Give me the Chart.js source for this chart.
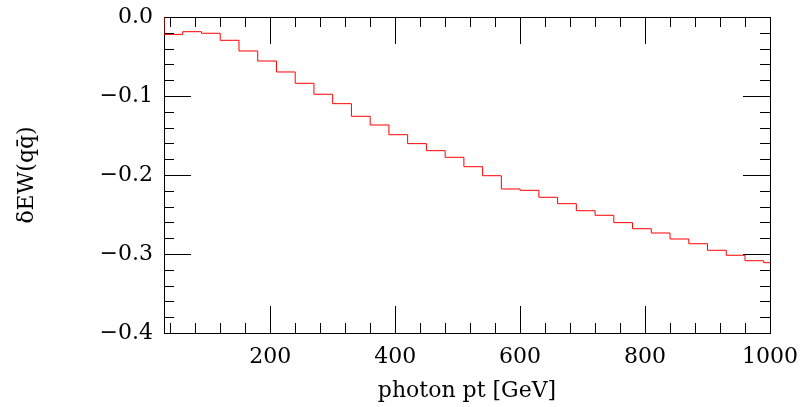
<!DOCTYPE html>
<html>
<head>
<meta charset="utf-8">
<script src="https://cdn.jsdelivr.net/npm/chart.js@4/dist/chart.umd.min.js"></script>
<style>
    html, body { margin: 0; padding: 0; background: #fff; }
    #wrap { width: 803px; height: 407px; }
</style>
</head>
<body>
<div id="wrap"><canvas id="myChart"></canvas></div>
<script>
// lower edges of the 30 GeV photon pt bins
const binLow = [30, 60, 90, 120, 150, 180, 210, 240, 270, 300, 330,
    360, 390, 420, 450, 480, 510, 540, 570, 600, 630, 660, 690,
    720, 750, 780, 810, 840, 870, 900, 930, 960, 990];
const binHighLast = 1020;
// delta EW (q qbar) per bin
const ewCorr = [-0.022, -0.0186, -0.0206, -0.0295, -0.043, -0.0557, -0.0696,
    -0.0839, -0.0978, -0.1097, -0.1257, -0.1367, -0.149, -0.1603, -0.1692,
    -0.1776, -0.1895, -0.2009, -0.2177, -0.2194, -0.2282, -0.2363, -0.2452,
    -0.251, -0.2603, -0.268, -0.2734, -0.281, -0.287, -0.2953, -0.3016,
    -0.3085, -0.311];
const xMajor = [200, 400, 600, 800, 1000];
const xMinor = [40, 80, 120, 160, 240, 280, 320, 360, 440, 480, 520, 560,
    640, 680, 720, 760, 840, 880, 920, 960];
const yMajor = [0, -0.1, -0.2, -0.3, -0.4];
const yMinor = [-0.02, -0.04, -0.06, -0.08, -0.12, -0.14, -0.16, -0.18,
    -0.22, -0.24, -0.26, -0.28, -0.32, -0.34, -0.36, -0.38];

// histogram outline: start at zero on the first edge, then step through bins
const points = [{ x: binLow[0], y: 0 }];
binLow.forEach((x, i) => points.push({ x: x, y: ewCorr[i] }));
points.push({ x: binHighLast, y: ewCorr[ewCorr.length - 1] });

const serif = "'DejaVu Serif', serif";

// inward ticks on all four sides plus the frame (drawn under the histogram)
const frameTicks = {
    id: 'frameTicks',
    beforeDatasetsDraw(chart) {
        const { ctx, chartArea: a, scales: { x, y } } = chart;
        ctx.save();
        ctx.strokeStyle = '#000';
        ctx.lineWidth = 1;
        ctx.beginPath();
        const tickX = (vals, len) => vals.forEach(v => {
            const px = Math.round(x.getPixelForValue(v)) + 0.5;
            ctx.moveTo(px, a.bottom); ctx.lineTo(px, a.bottom - len);
            ctx.moveTo(px, a.top); ctx.lineTo(px, a.top + len);
        });
        const tickY = (vals, len) => vals.forEach(v => {
            const py = Math.round(y.getPixelForValue(v)) + 0.5;
            ctx.moveTo(a.left, py); ctx.lineTo(a.left + len, py);
            ctx.moveTo(a.right, py); ctx.lineTo(a.right - len, py);
        });
        tickX(xMajor, 27);
        tickX(xMinor, 10);
        tickY(yMajor, 27);
        tickY(yMinor, 10);
        ctx.stroke();
        ctx.strokeRect(a.left + 0.5, a.top + 0.5, a.right - a.left, a.bottom - a.top);
        ctx.restore();
    }
};

new Chart(document.getElementById("myChart"), {
    type: 'line',
    data: {
        datasets: [{
            data: points,
            stepped: 'before',
            borderColor: '#ff0000',
            borderWidth: 1,
            pointRadius: 0,
            fill: false
        }]
    },
    options: {
        responsive: true,
        maintainAspectRatio: false,
        animation: false,
        layout: { padding: { top: 17, right: 33, left: 0, bottom: 0 } },
        plugins: {
            legend: { display: false },
            tooltip: { enabled: false }
        },
        scales: {
            x: {
                type: 'linear',
                min: 30,
                max: 1000,
                afterBuildTicks: (scale) => { scale.ticks = xMajor.map(v => ({ value: v })); },
                afterFit: (scale) => {
                    scale.height = 74;
                    scale.paddingLeft = 0;
                    scale.paddingRight = 0;
                },
                grid: { display: false, drawTicks: false },
                border: { display: false },
                ticks: {
                    color: '#000',
                    font: { family: serif, size: 22 },
                    padding: 11,
                    maxRotation: 0,
                    callback: (v) => String(v)
                },
                title: {
                    display: true,
                    text: 'photon pt [GeV]',
                    color: '#000',
                    font: { family: serif, size: 22 },
                    padding: { top: 0, bottom: 3 }
                }
            },
            y: {
                min: -0.4,
                max: 0,
                afterBuildTicks: (scale) => { scale.ticks = yMajor.map(v => ({ value: v })); },
                afterFit: (scale) => {
                    scale.width = 164;
                    scale.paddingTop = 0;
                    scale.paddingBottom = 0;
                },
                grid: { display: false, drawTicks: false },
                border: { display: false },
                ticks: {
                    color: '#000',
                    font: { family: serif, size: 22 },
                    padding: 11,
                    callback: (v) => (v === 0 ? '0.0' : '\u2212' + Math.abs(v).toFixed(1))
                },
                title: {
                    display: true,
                    text: '\u03B4EW(qq\u0304)',
                    color: '#000',
                    font: { family: serif, size: 22 },
                    padding: { top: 14, bottom: 0 }
                }
            }
        }
    },
    plugins: [frameTicks]
});
</script>
</body>
</html>
